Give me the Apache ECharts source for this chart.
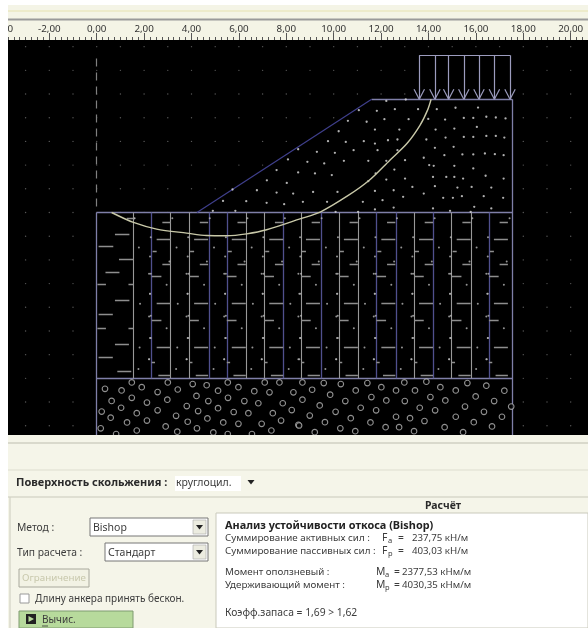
<!DOCTYPE html>
<html><head><meta charset="utf-8">
<style>html,body{margin:0;padding:0;background:#fff}#c{width:588px;height:628px;filter:blur(.5px)}</style>
<script src="https://cdn.jsdelivr.net/npm/echarts@6/dist/echarts.min.js"></script></head>
<body><div id="c"></div>
<script>
const rulerMin=-4, rulerMax=22, rulerStep=2;
const gridDotX=[-3,-2,-1,0,1,2,3,4,5,6,7,8,9,10,11,12,13,14,15,16,17,18,19,20];
const gridDotY=[7,6,5,4,3,2,1,0,-1,-2,-3,-4,-5,-6,-7,-8,-9];
const crestX=11.6,toeX=4.23,surfaceY=4.78,rightX=17.53,clayBottomY=-7,gravelBottomY=-9.39,loadTopY=6.64;
const loadArrowX=[13.61,14.27,14.85,15.49,16.13,16.78,17.44];
const slipCircle=[[14.11,4.78],[13.96,4.32],[13.64,3.68],[13.09,2.91],[12.37,2.21],[11.5,1.36],[10.63,.73],[9.45,.03],[8.58,-.27],[7.17,-.73],[6.33,-.9],[5.49,-.98],[4.64,-.97],[3.8,-.87],[2.53,-.7],[1.55,-.42],[.63,0]];
const sandDots=[[12.22,4.71],[13.04,4.77],[11.82,4.29],[11.06,4.32],[12.58,4.36],[13.56,4.36],[14.35,4.36],[15.14,4.42],[16.09,4.43],[12.14,3.94],[13.16,3.94],[13.99,3.95],[14.7,3.92],[15.49,3.99],[15.89,3.99],[16.44,4.04],[16.84,4.01],[17.25,3.97],[11.39,3.83],[10.6,3.87],[11.74,3.5],[10.21,3.43],[12.77,3.5],[14.3,3.5],[15.09,3.54],[16.04,3.61],[14.72,3.16],[15.49,3.19],[15.89,3.19],[16.44,3.23],[16.84,3.23],[17.2,3.16],[13.91,3.08],[12.69,3.08],[9.76,3.01],[10.51,2.98],[11.27,3.01],[12.29,3.05],[11.74,2.91],[8.5,2.67],[9.29,2.56],[10.05,2.52],[10.84,2.63],[11.85,2.63],[12.69,2.63],[14.27,2.73],[15.06,2.77],[15.43,2.45],[15.89,2.45],[16.38,2.49],[16.8,2.46],[17.17,2.42],[14.67,2.42],[8.07,2.24],[8.89,2.14],[9.6,2.07],[10.43,2.18],[11.46,2.18],[12.22,2.18],[13.01,2.21],[13.8,2.31],[14.03,2.0],[14.22,1.97],[15.89,1.86],[15.09,1.97],[7.59,1.79],[8.5,1.69],[9.21,1.65],[9.92,1.58],[12.56,1.81],[11.77,1.65],[13.01,1.43],[14.19,1.5],[14.75,1.5],[15.46,1.43],[15.09,1.5],[16.41,1.55],[17.17,1.43],[12.22,1.39],[7.18,1.36],[8.02,1.25],[11.46,1.32],[5.73,.97],[6.76,.94],[7.59,.84],[8.29,.8],[9.13,.87],[10.16,.87],[11.74,.91],[12.53,.94],[13.32,1.08],[14.27,1.11],[15.22,1.05],[15.82,1.08],[16.65,1.05],[5.33,.49],[6.31,.48],[7.17,.41],[7.91,.35],[8.7,.45],[9.72,.45],[11.23,.45],[12.06,.52],[12.93,.66],[13.8,.8],[14.62,.62],[15.03,.62],[15.41,.69],[16.33,.69],[17.15,.62],[4.9,.07],[5.85,.07],[11.74,.13],[12.53,.21],[14.19,.17],[14.91,.07],[15.78,.03],[16.65,.17],[15.93,.24],[10.08,.03],[11.03,.03]];
const gravelRings=[[1.48,-7.17],[3.0,-7.17],[4.05,-7.24],[4.64,-7.29],[5.53,-7.17],[7.09,-7.17],[7.71,-7.17],[.35,-7.44],[1.05,-7.51],[1.9,-7.37],[2.57,-7.58],[3.42,-7.47],[5.12,-7.52],[5.98,-7.37],[6.65,-7.54],[7.29,-7.59],[8.3,-7.59],[.63,-7.95],[1.48,-7.82],[2.12,-8.02],[2.98,-7.9],[4.21,-7.74],[4.71,-7.96],[5.54,-7.82],[6.23,-7.96],[6.82,-8.05],[7.85,-8.05],[.21,-8.4],[1.03,-8.24],[1.69,-8.47],[2.57,-8.35],[3.8,-8.17],[4.28,-8.38],[5.12,-8.26],[5.78,-8.42],[6.4,-8.47],[7.43,-8.47],[8.23,-8.34],[.59,-8.66],[1.28,-8.86],[2.12,-8.78],[3.35,-8.58],[3.84,-8.83],[4.67,-8.69],[5.34,-8.86],[5.98,-8.92],[6.96,-8.92],[7.78,-8.78],[8.51,-8.96],[.17,-9.11],[.82,-9.35],[1.69,-9.2],[2.91,-9.03],[3.4,-9.25],[4.23,-9.11],[4.92,-9.28],[5.53,-9.35],[6.55,-9.35],[7.37,-9.2],[8.68,-7.17],[9.58,-7.2],[10.3,-7.24],[11.42,-7.2],[12.01,-7.37],[12.98,-7.17],[13.91,-7.14],[14.5,-7.37],[15.64,-7.2],[16.44,-7.31],[9.09,-7.48],[10.93,-7.51],[12.63,-7.51],[13.43,-7.51],[15.15,-7.51],[17.2,-7.52],[9.85,-7.69],[8.68,-7.9],[9.41,-8.14],[10.49,-7.96],[11.59,-7.79],[12.22,-7.93],[13.0,-7.96],[14.08,-7.79],[14.71,-7.93],[15.99,-7.76],[16.77,-7.96],[10.08,-8.41],[11.14,-8.24],[11.79,-8.35],[13.63,-8.24],[14.28,-8.35],[15.54,-8.19],[17.49,-8.19],[16.34,-8.41],[8.99,-8.57],[10.72,-8.68],[12.63,-8.62],[13.22,-8.68],[15.15,-8.62],[17.1,-8.62],[9.63,-8.85],[11.55,-8.86],[13.83,-8.8],[15.91,-8.85],[8.54,-8.99],[10.28,-9.11],[12.19,-9.06],[12.76,-9.06],[14.68,-9.06],[16.68,-9.03],[9.2,-9.27],[10.91,-9.23],[13.39,-9.23],[15.46,-9.27]];
const clayLinesGrey=[1.55,3.12,3.9,6.3,7.07,8.62,10.22,11.04,13.39,14.98,15.8];
const clayLinesBlue=[2.32,4.74,5.49,7.88,9.47,11.8,12.63,14.2,16.55];
const clayColumns=[2.32,3.9,5.49,7.07,8.62,10.22,11.8,13.39,14.98,16.55];
const clayDashTile=[[.45,.8,-.42],[.21,.8,-1.13],[.04,.21,-1.65],[.45,.8,-2.17],[0,.41,-2.7],[.21,.8,-3.85],[0,.41,-4.56],[.21,.8,-5.7],[0,.14,-6.32],[.28,.8,-6.85]];
const clayDotTile=[[.87,-.24],[1.05,-1.48],[.75,-2.07],[1.1,-3.85],[1.08,-5.7],[1.03,-6.6],[1.52,-1.86],[1.55,-2.59],[1.52,-3.43],[1.48,-6.19],[1.52,-5.3],[1.55,-4.36],[-.04,-1.04],[-.11,-2.59],[-.11,-4.39],[-.11,-6.19],[-.07,-3.43],[-.04,-5.3],[.63,-3.05],[.63,-4.88]];
const clayLeftDashes=[[1.27,1.62,-.24],[.77,1.38,-.9],[.08,.7,-1.43],[.94,1.55,-1.97],[.37,.96,-2.52],[.03,.39,-3.01],[1.34,1.55,-3.01],[.77,1.38,-3.7],[.08,.68,-4.28],[.03,.39,-4.87],[1.34,1.55,-4.87],[.77,1.36,-5.56],[.08,.68,-6.12],[.87,1.46,-6.69]];
const dashLineTop=6.5;
const panelTitle='Поверхность скольжения :',slipType='круглоцил.';
const methodLabel='Метод :',methodValue='Bishop',calcLabel='Тип расчета :',calcValue='Стандарт';
const limitBtn='Ограничение',anchorLabel='Длину анкера принять бескон.',runBtn='Вычис.';
const resultHeader='Расчёт',resultTitle='Анализ устойчивости откоса (Bishop)';
const resultLabels=['Суммирование активных сил :','Суммирование пассивных сил :','Момент оползневый :','Удерживающий момент :'];
const resultSym=[['F','a'],['F','p'],['M','a'],['M','p']];
const resultVals=['237,75 кН/м','403,03 кН/м','2377,53 кНм/м','4030,35 кНм/м'];
const safety='Коэфф.запаса = 1,69 > 1,62';

const seg=(a,b,c,d)=>({coords:[[a,b],[c,d]]});
const linesS=(data,color,width,z,extra)=>Object.assign({type:'lines',coordinateSystem:'cartesian2d',polyline:false,silent:true,z,data,lineStyle:{color,width,opacity:1}},extra||{});
const dots=(data,size,color,z)=>({type:'scatter',data,symbolSize:size,silent:true,z,itemStyle:{color},animation:false});

const gridDots=[];gridDotX.forEach(x=>gridDotY.forEach(y=>gridDots.push([x,y])));
const masks=[[[toeX,0],[crestX,surfaceY],[rightX,surfaceY],[rightX,0]],[[0,0],[rightX,0],[rightX,gravelBottomY],[0,gravelBottomY]],[[loadArrowX[0],loadTopY],[loadArrowX[6],loadTopY],[loadArrowX[6],surfaceY],[loadArrowX[0],surfaceY]]];

const frame=[seg(0,0,rightX,0),seg(0,clayBottomY,rightX,clayBottomY),seg(0,0,0,gravelBottomY),seg(rightX,surfaceY,rightX,gravelBottomY),seg(crestX,surfaceY,rightX,surfaceY)];
const load=[seg(loadArrowX[0],loadTopY,loadArrowX[6],loadTopY)];
loadArrowX.forEach(x=>{load.push(seg(x,loadTopY,x,surfaceY),seg(x-.22,surfaceY+.42,x,surfaceY),seg(x+.22,surfaceY+.42,x,surfaceY));});
const dashes=clayLeftDashes.map(d=>seg(d[0],d[2],d[1],d[2]));
clayColumns.forEach(c=>clayDashTile.forEach(d=>dashes.push(seg(c+d[0],d[2],c+d[1],d[2]))));
const clayDots=[];clayColumns.concat([.73]).forEach(c=>clayDotTile.forEach(d=>{const x=c+d[0];if(x>1.5&&x<rightX)clayDots.push([x,d[1]]);}));

const F='"Noto Sans",sans-serif';
const T=(x,y,text,o)=>({type:'text',x,y,z:50,style:Object.assign({text,fill:'#3c3c3c',font:'10.3px '+F,textVerticalAlign:'middle',verticalAlign:'middle'},o||{})});
const R=(x,y,w,h,fill,o)=>({type:'rect',x,y,z:(o&&o.z)||40,shape:{width:w,height:h},style:Object.assign({fill},(o&&o.style)||{})});
const L=(x1,y1,x2,y2,c,w)=>({type:'line',z:45,shape:{x1,y1,x2,y2},style:{stroke:c,lineWidth:w||1}});
const tri=(x,y)=>({type:'polygon',z:50,shape:{points:[[x-3.5,y-2],[x+3.5,y-2],[x,y+2.5]]},style:{fill:'#222'}});
const combo=(x,y,w,h)=>[R(x,y,w,h,'#fff',{style:{stroke:'#777',lineWidth:1}}),R(x+w-15,y+2,13,h-4,'#ecece0',{style:{stroke:'#aaa',lineWidth:.6}}),tri(x+w-8.5,y+h/2)];

const graphicEls=[
 R(8,5,580,35,'#f4f4e6',{z:-5}),
 L(8,11,588,11,'#e6e2b0',1.2),L(8,19.5,588,19.5,'#9a9a9a',2),
 R(0,0,8,628,'#fff',{z:60}),
 R(8,435,580,193,'#f5f5e9',{z:40}),
 L(8,443,588,443,'#bdbdb0',1.2),L(8,470,588,470,'#deded0',1.2),L(8,497,588,497,'#c9c9bb',1.2),L(10,497,10,628,'#d2d2c4',1.2),
 T(16,483,panelTitle,{font:'bold 11px '+F,fill:'#2a2a2a'}),
 R(175,476,66,15,'#fff'),T(176,483,slipType,{font:'10.5px '+F}),tri(251,482),
 T(17,528,methodLabel),...combo(90,518,118,18),T(93,528,methodValue,{font:'10.5px '+F}),
 T(17,553,calcLabel),...combo(105,543,103,18),T(108,553,calcValue,{font:'10.5px '+F}),
 R(19,569,70,18,'#f2f2e4',{style:{stroke:'#a8a89c',lineWidth:1}}),T(22,578,limitBtn,{fill:'#c8c8ac',font:'9.8px '+F}),
 R(20,594,9,9,'#fff',{style:{stroke:'#999',lineWidth:1}}),T(35,599,anchorLabel,{font:'10px '+F}),
 R(19,611,114,17,'#b7da9c',{style:{stroke:'#7f9b70',lineWidth:1}}),
 R(26,614,10,10,'#222'),{type:'polygon',z:50,shape:{points:[[28.5,616],[34,619],[28.5,622]]},style:{fill:'#b7da9c'}},
 T(42,620,runBtn,{font:'10px '+F}),L(42,626,48,626,'#333',.8),
 T(443,506,resultHeader,{font:'bold 10.5px '+F,textAlign:'center',align:'center',fill:'#2a2a2a'}),
 R(216,513,372,115,'#fff',{style:{stroke:'#c9c9bb',lineWidth:1}}),
 T(225,526,resultTitle,{font:'bold 10.9px '+F,fill:'#222'}),
 T(225,613,safety),
];
[538,551,572,585].forEach((y,i)=>{
 graphicEls.push(T(225,y,resultLabels[i],{font:'9.8px '+F}));
 const sx=i<2?382:376;
 graphicEls.push(T(sx,y,resultSym[i][0],{font:'10.3px '+F}));
 graphicEls.push(T(sx+(i<2?6:9),y+3,resultSym[i][1],{font:'7.5px '+F}));
 graphicEls.push(T(i<2?398:394,y,'=',{}));
 graphicEls.push(T(i<2?412:402,y,resultVals[i],{font:'9.7px '+F}));
});

const chart=echarts.init(document.getElementById('c'),null,{renderer:'canvas'});
chart.setOption({animation:false,backgroundColor:'#fff',
 grid:{left:1.9,top:40,width:616.2,height:395,show:true,backgroundColor:'#000',borderWidth:0,outerBoundsMode:'none'},
 xAxis:{type:'value',position:'top',min:rulerMin,max:rulerMax,interval:rulerStep,
  axisLine:{show:false,onZero:false},splitLine:{show:false},
  axisTick:{show:true,inside:false,length:7,lineStyle:{color:'#555',width:1}},
  minorTick:{show:true,splitNumber:8,length:3,lineStyle:{color:'#555',width:1}},
  axisLabel:{show:true,margin:6,color:'#333',fontFamily:F,fontSize:9.8,formatter:v=>v.toFixed(2).replace('.',','),showMinLabel:true,showMaxLabel:true}},
 yAxis:{type:'value',show:false,min:gravelBottomY,max:7.28,axisLine:{onZero:false}},
 graphic:{elements:graphicEls},
 series:[
  dots(gridDots,1.4,'#6e6e6e',1),
  {type:'custom',silent:true,z:2,data:masks.map(m=>m[0]),renderItem:(p,api)=>({type:'polygon',shape:{points:masks[p.dataIndex].map(c=>api.coord(c))},style:{fill:'#000'}})},
  linesS(frame,'#7f7fa8',1.3,3),
  linesS([seg(toeX,0,crestX,surfaceY)],'#3f3f8c',1.2,3),
  linesS(load,'#9c9cbe',1.2,3),
  linesS([seg(0,dashLineTop,0,0)],'#808080',1.2,3,{lineStyle:{color:'#808080',width:1.2,opacity:1,type:[8,6]}}),
  linesS(clayLinesGrey.map(x=>seg(x,0,x,clayBottomY)),'#989898',1.1,3),
  linesS(clayLinesBlue.map(x=>seg(x,0,x,clayBottomY)),'#50508e',1.3,3),
  linesS(dashes,'#8e8e8e',1.4,3),
  dots(sandDots,2.3,'#dcdcdc',3),
  dots(clayDots,2,'#b8b8b8',3),
  {type:'scatter',data:gravelRings,symbolSize:5.6,silent:true,z:3,itemStyle:{color:'#000',borderColor:'#b4b4b4',borderWidth:1.1}},
  {type:'line',data:slipCircle,smooth:.3,showSymbol:false,silent:true,z:4,lineStyle:{color:'#c8c8a8',width:1.4}}
 ]});
</script></body></html>
